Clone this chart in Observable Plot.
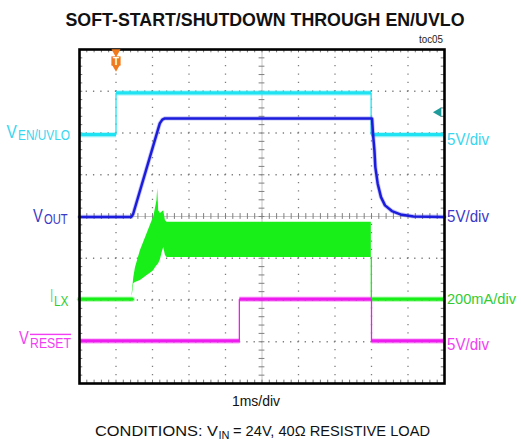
<!DOCTYPE html>
<html><head><meta charset="utf-8">
<script src="https://cdn.jsdelivr.net/npm/d3@7"></script>
<script src="https://cdn.jsdelivr.net/npm/@observablehq/plot@0.6"></script>
<style>
body{margin:0;background:#fff}
#chart{position:relative;width:521px;height:439px;overflow:hidden}
</style>
</head><body><div id="chart"></div>
<script>
// ---------- data (time in ms, 1 ms/div) ----------
const channels = ["EN/UVLO", "OUT", "LX", "RESET"];
const mainSymbols = ["V", "V", "I", "V"];
const offsets  = [5.96, 3.99, 2.02, 1.02];   // ground level of each channel, in divisions
const perDiv   = [5, 5, 200, 5];             // V/div, V/div, mA/div, V/div
const unitLabels = ["5V/div", "5V/div", "200mA/div", "5V/div"];

// V_EN/UVLO (V)
const tEN = [0, 1.0, 1.0, 7.99, 7.99, 10];
const vEN = [0, 0, 5, 5, 0, 0];

// V_OUT (V)
const tOUT = [0, 1.42, 1.47, 2.20, 2.27, 2.34, 8.0, 8.015, 8.04, 8.08, 8.105, 8.17, 8.26, 8.37, 8.56, 8.79, 9.15, 10];
const vOUT = [0, 0, 0.35, 11.2, 11.65, 11.8, 11.8, 11.77, 10.0, 7.97, 5.97, 3.98, 2.37, 1.38, 0.70, 0.30, 0.06, 0];

// I_LX (mA): idle trace and switching envelope
const tLXidle = [0, 1.443];
const iLXidle = [0, 0];
const tLXenv  = [1.443, 1.487, 1.533, 1.670, 1.854, 1.991, 2.035, 2.081, 2.122, 2.144, 2.169, 2.218, 2.265, 2.308, 2.355, 2.401, 7.995];
const iLXhigh = [26, 103, 151, 233, 314, 376, 395, 434, 472, 530, 424, 410, 418, 424, 376, 369, 369];
const iLXlow  = [12, 74, 80, 89, 113, 130, 137, 150, 160, 165, 170, 190, 223, 248, 209, 199, 199];
const tLXtail = [7.995, 7.995, 10];
const iLXtail = [199, 0, 0];

// V_RESET (V)
const tRST = [0, 4.38, 4.38, 8.0, 8.0, 10];
const vRST = [0, 0, 5, 5, 0, 0];

const triggerTime = 1.0;     // ms
const triggerLevel = 2.7;    // V on EN/UVLO

const colors = ["#1fe3f2", "#1c1cdc", "#18ee18", "#ee1cee"];
const labelColors = ["#38d6ef", "#3a3ac6", "#33cc33", "#f23ef2"];

// ---------- helpers ----------
const toDiv = (ch, v) => offsets[ch] + v / perDiv[ch];
const pts = (ch, T, V) => T.map((t, i) => ({t, d: toDiv(ch, V[i])}));
const segs = p => p.slice(1).map((q, i) => ({x1: p[i].t, y1: p[i].d, x2: q.t, y2: q.d, edge: q.t === p[i].t}));

function stepMarks(ch, T, V) {
  const s = segs(pts(ch, T, V));
  const lv = s.filter(d => !d.edge), ed = s.filter(d => d.edge);
  const o = {x1: "x1", y1: "y1", x2: "x2", y2: "y2", stroke: colors[ch]};
  return [
    Plot.link(lv, {...o, strokeWidth: 5.5, strokeOpacity: 0.3}),
    Plot.link(lv, {...o, strokeWidth: 3.4}),
    Plot.link(ed, {...o, strokeWidth: 1.3})
  ];
}

const minorX = d3.range(0, 10.001, 0.2);
const minorY = d3.range(0, 8.001, 0.2);
const divH = 334 / 8, divW = 365 / 10;

const envData = tLXenv.map((t, i) => ({t, lo: toDiv(2, iLXlow[i]), hi: toDiv(2, iLXhigh[i])}));

const plot = Plot.plot({
  width: 521, height: 439,
  marginLeft: 79, marginRight: 77, marginTop: 49, marginBottom: 56,
  x: {domain: [0, 10], axis: null},
  y: {domain: [0, 8], axis: null},
  marks: [
    // dotted graticule
    Plot.ruleX(d3.range(1, 10).filter(d => d !== 5), {stroke: "#7d7d7d", strokeWidth: 1.3,
      strokeDasharray: `1.3 ${(divH / 5 - 1.3).toFixed(3)}`, strokeDashoffset: 0.65}),
    Plot.ruleY(d3.range(1, 8).filter(d => d !== 4), {stroke: "#7d7d7d", strokeWidth: 1.3,
      strokeDasharray: `1.3 ${(divW / 5 - 1.3).toFixed(3)}`, strokeDashoffset: 0.65}),
    // centre cross
    Plot.ruleX([5], {stroke: "#c4c4c4", strokeWidth: 1}),
    Plot.ruleY([4], {stroke: "#c4c4c4", strokeWidth: 1}),
    Plot.ruleY(minorY, {y: d => d, x1: 5 - 0.08, x2: 5 + 0.08, stroke: "#808080", strokeWidth: 1}),
    Plot.ruleX(minorX, {x: d => d, y1: 4 - 0.07, y2: 4 + 0.07, stroke: "#808080", strokeWidth: 1}),
    // edge ticks
    Plot.ruleX(minorX, {x: d => d, y1: 8, y2: 7.92, stroke: "#777", strokeWidth: 1}),
    Plot.ruleX(minorX, {x: d => d, y1: 0, y2: 0.08, stroke: "#777", strokeWidth: 1}),
    Plot.ruleY(minorY, {y: d => d, x1: 0, x2: 0.09, stroke: "#777", strokeWidth: 1}),
    Plot.ruleY(minorY, {y: d => d, x1: 10, x2: 9.91, stroke: "#777", strokeWidth: 1}),

    // EN/UVLO
    ...stepMarks(0, tEN, vEN),
    // VOUT
    Plot.line(pts(1, tOUT, vOUT), {x: "t", y: "d", stroke: colors[1], strokeWidth: 4.2, strokeOpacity: 0.25}),
    Plot.line(pts(1, tOUT, vOUT), {x: "t", y: "d", stroke: colors[1], strokeWidth: 2.5}),
    // ILX
    Plot.line(pts(2, tLXidle, iLXidle), {x: "t", y: "d", stroke: colors[2], strokeWidth: 5.5, strokeOpacity: 0.3}),
    Plot.line(pts(2, tLXidle, iLXidle), {x: "t", y: "d", stroke: colors[2], strokeWidth: 3.4}),
    Plot.areaY(envData, {x: "t", y1: "lo", y2: "hi", fill: colors[2]}),
    ...stepMarks(2, tLXtail, iLXtail),
    // RESET
    ...stepMarks(3, tRST, vRST),

    // frame
    Plot.frame({stroke: "black", strokeWidth: 2.6}),

    // trigger markers
    Plot.dot([triggerTime], {x: d => d, y: 8, dy: 2.5, symbol: "triangle", rotate: 180, r: 3.4, fill: "#f07a1c"}),
    Plot.dot([triggerTime], {x: d => d, y: 8, dy: 11.5, symbol: "square", r: 5.2, fill: "#f07a1c"}),
    Plot.dot([triggerTime], {x: d => d, y: 8, dy: 17, symbol: "triangle", rotate: 180, r: 3.3, fill: "#f07a1c"}),
    Plot.text([triggerTime], {x: d => d, y: 8, dy: 12.5, text: () => "T", fill: "white", fontWeight: "bold", fontSize: 10,
      fontFamily: "Liberation Sans, Arial, sans-serif"}),
    Plot.dot([triggerLevel], {x: 10, y: d => toDiv(0, d), dx: -6, symbol: "triangle", rotate: -90, r: 3.6, fill: "#1f9b9b"})
  ]
});

document.getElementById("chart").appendChild(plot);

// ---------- texts ----------
const svg = d3.select(plot);
const ys = plot.scale("y");
const FONT = "'Liberation Sans Narrow', 'Arial Narrow', 'Liberation Sans', Arial, sans-serif";
const FONTW = "'Liberation Sans', Arial, sans-serif";

function addText({x, y, text, size, color, weight = "normal", anchor = "start", len, family = FONTW, over = false}) {
  const t = svg.append("text").attr("x", x).attr("y", y).attr("fill", color)
    .attr("font-family", family).attr("font-size", size).attr("font-weight", weight)
    .attr("text-anchor", anchor).text(text);
  if (len) t.attr("textLength", len).attr("lengthAdjust", "spacingAndGlyphs");
  if (over) t.style("text-decoration", "overline");
  return t;
}

// title + captions
addText({x: 265, y: 25.5, text: "SOFT-START/SHUTDOWN THROUGH EN/UVLO", size: 17.8, color: "#111", weight: "bold", anchor: "middle", len: 399});
addText({x: 419, y: 43, text: "toc05", size: 10, color: "#222", len: 24});
addText({x: 232, y: 406, text: "1ms/div", size: 14.5, color: "#111", len: 48});
addText({x: 95, y: 436, text: "CONDITIONS: V", size: 15, color: "#111", len: 123});
addText({x: 218.5, y: 438.5, text: "IN", size: 10, color: "#111", len: 11});
addText({x: 233, y: 436, text: "= 24V, 40Ω RESISTIVE LOAD", size: 15, color: "#111", len: 197});

// channel labels (left): main symbol + subscript
const leftLab = [
  {x0: 6.5,  xs: 18,   x1: 70,   dy: 3.5, subDy: 5.5},
  {x0: 33,   xs: 44,   x1: 67.7, dy: 6,   subDy: 7.6},
  {x0: 50.5, xs: 54,   x1: 68.5, dy: 3.2, subDy: 7.4},
  {x0: 19,   xs: 30,   x1: 71,   dy: 3.3, subDy: 7.3, over: true}
];
leftLab.forEach((L, ch) => {
  const y0 = ys.apply(offsets[ch]);
  addText({x: L.x0, y: y0 + L.dy, text: mainSymbols[ch], size: 18, color: labelColors[ch],
    len: L.xs - L.x0 - 1.2, family: FONT});
  addText({x: L.xs, y: y0 + L.subDy, text: channels[ch], size: 14, color: labelColors[ch],
    len: L.x1 - L.xs, family: FONT, over: L.over});
});

// scale labels (right)
const rightLab = [{dy: 11, len: 42, size: 17}, {dy: 5.2, len: 42, size: 17}, {dy: 5, len: 69, size: 15}, {dy: 9.3, len: 42, size: 17}];
rightLab.forEach((R, ch) => {
  addText({x: 447, y: ys.apply(offsets[ch]) + R.dy, text: unitLabels[ch], size: R.size,
    color: labelColors[ch], len: R.len, family: FONT});
});
</script>
</body></html>
